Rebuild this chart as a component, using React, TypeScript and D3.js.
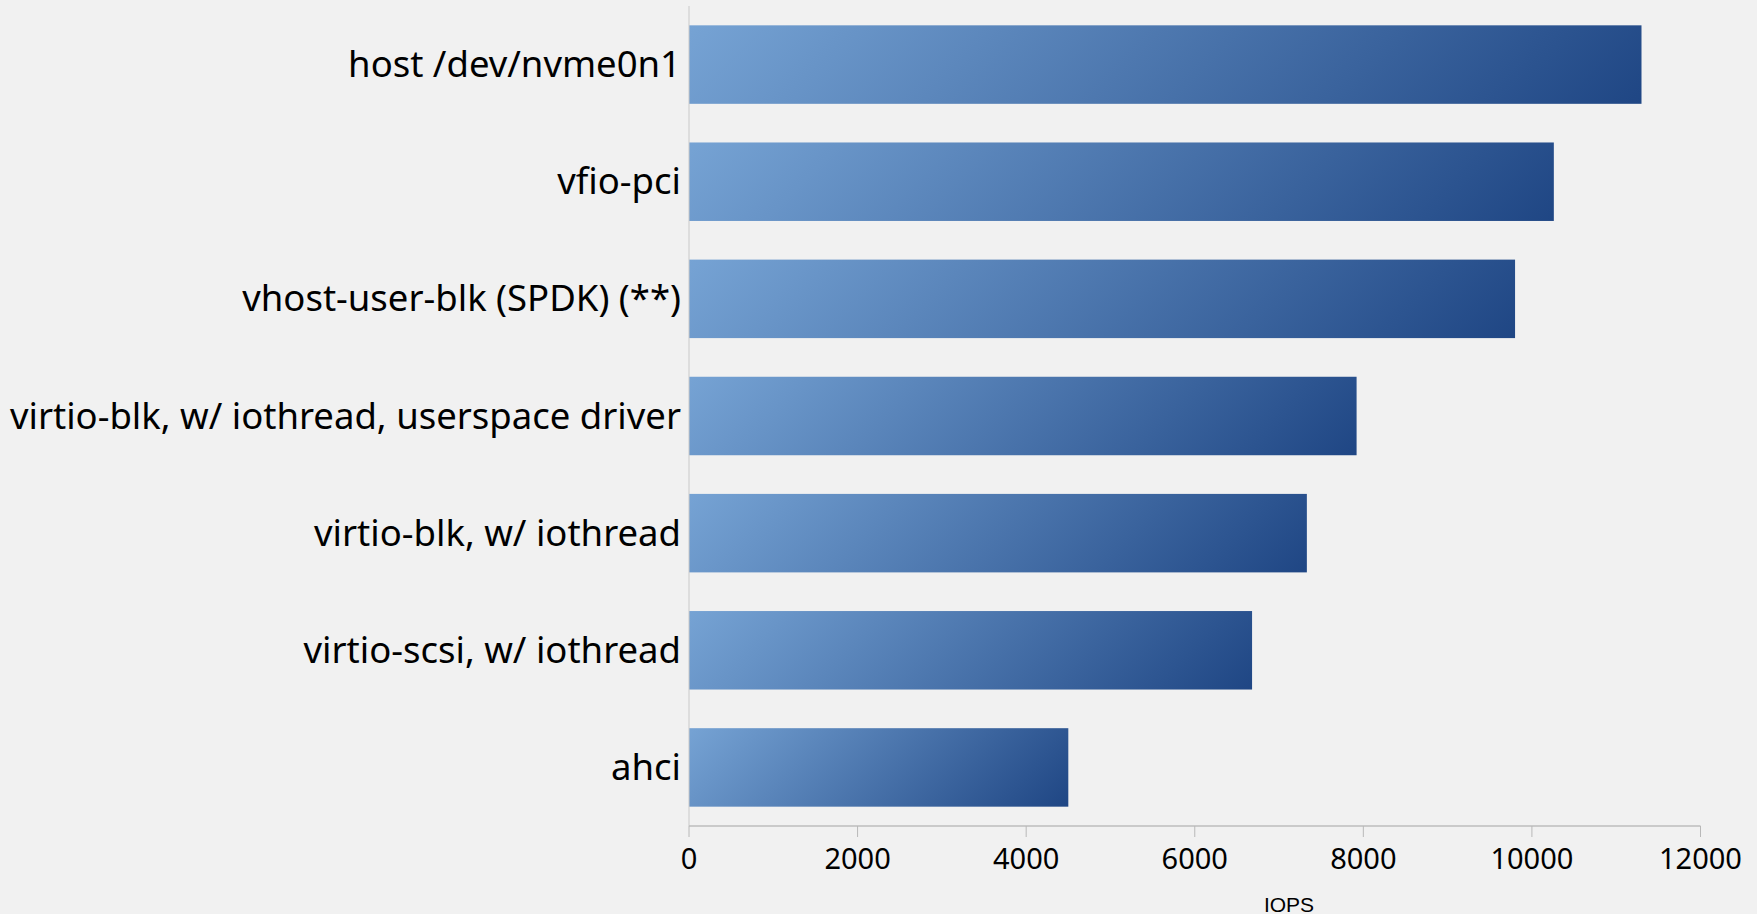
import React, { useMemo } from "react";
import * as d3 from "d3";

const categories = [
  "host /dev/nvme0n1",
  "vfio-pci",
  "vhost-user-blk (SPDK) (**)",
  "virtio-blk, w/ iothread, userspace driver",
  "virtio-blk, w/ iothread",
  "virtio-scsi, w/ iothread",
  "ahci",
];
const iops = [11300, 10260, 9800, 7920, 7330, 6680, 4500];
const xTicks = [0, 2000, 4000, 6000, 8000, 10000, 12000];
const xTitle = "IOPS";

const W = 1757;
const H = 914;
const plot = { left: 689, right: 1700.5, top: 6, bottom: 826 };

export default function App() {
  const x = useMemo(
    () => d3.scaleLinear().domain([0, 12000]).range([plot.left, plot.right]),
    []
  );
  const y = useMemo(
    () =>
      d3
        .scaleBand<string>()
        .domain(categories)
        .range([plot.top, plot.bottom])
        .paddingInner(0.33)
        .paddingOuter(0.165),
    []
  );

  return (
    <svg
      width={W}
      height={H}
      style={{ position: "absolute", left: 0, top: 0, background: "#f1f1f1" }}
    >
      <defs>
        {categories.map((c, i) => {
          // 45° gradient: light at the top-left corner, dark at the bottom-right
          const x0 = x(0);
          const y0 = y(c) as number;
          const w = x(iops[i]) - x0;
          const h = y.bandwidth();
          const d = (w + h) / 2;
          return (
            <linearGradient
              key={c}
              id={`barFill${i}`}
              gradientUnits="userSpaceOnUse"
              x1={x0}
              y1={y0}
              x2={x0 + d}
              y2={y0 + d}
            >
              <stop offset="0%" stopColor="#76a3d4" />
              <stop offset="100%" stopColor="#1f4684" />
            </linearGradient>
          );
        })}
      </defs>
      <rect width={W} height={H} fill="#f1f1f1" />

      {/* bars */}
      {categories.map((c, i) => (
        <rect
          key={c}
          x={x(0)}
          y={y(c)}
          width={x(iops[i]) - x(0)}
          height={y.bandwidth()}
          fill={`url(#barFill${i})`}
        />
      ))}

      {/* y axis */}
      <line
        x1={plot.left}
        x2={plot.left}
        y1={plot.top}
        y2={plot.bottom}
        stroke="#c9c9c9"
        strokeWidth={1}
      />
      {categories.map((c) => (
        <text
          key={c}
          x={plot.left - 8}
          y={(y(c) as number) + y.bandwidth() / 2 + 12.5}
          textAnchor="end"
          fontFamily="'Noto Sans', sans-serif"
          fontSize={36.5}
          fill="#000"
        >
          {c}
        </text>
      ))}

      {/* x axis */}
      <line
        x1={plot.left}
        x2={plot.right}
        y1={plot.bottom}
        y2={plot.bottom}
        stroke="#bdbdbd"
        strokeWidth={1.5}
      />
      {xTicks.map((t) => (
        <g key={t}>
          <line
            x1={x(t)}
            x2={x(t)}
            y1={plot.bottom}
            y2={plot.bottom + 11}
            stroke="#b8b8b8"
            strokeWidth={1}
          />
          <text
            x={x(t)}
            y={869}
            textAnchor="middle"
            fontFamily="'Noto Sans', sans-serif"
            fontSize={29}
            fill="#000"
          >
            {t}
          </text>
        </g>
      ))}
      <text
        x={1289}
        y={912}
        textAnchor="middle"
        fontFamily="'Liberation Sans', Arial, sans-serif"
        fontSize={21}
        fill="#000"
      >
        {xTitle}
      </text>
    </svg>
  );
}
